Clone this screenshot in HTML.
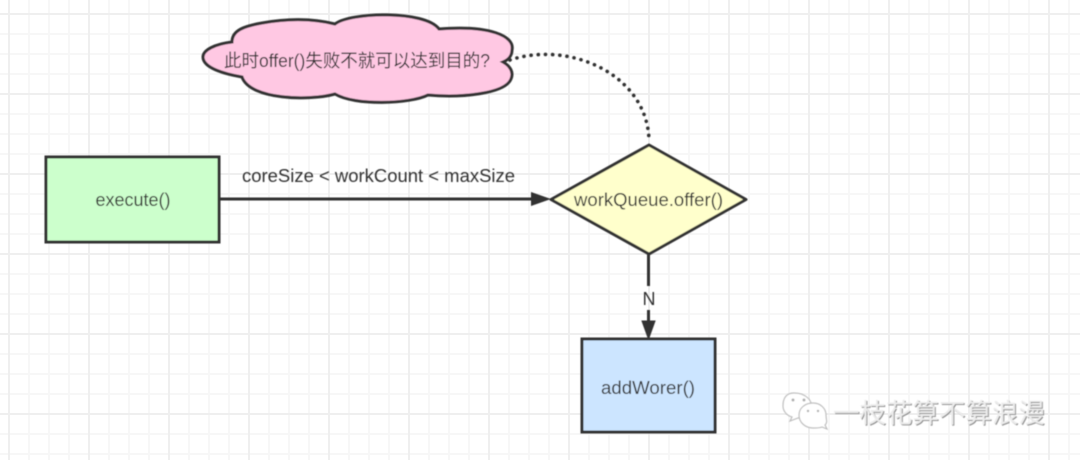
<!DOCTYPE html>
<html><head><meta charset="utf-8"><style>
html,body{margin:0;padding:0;background:#fff}
svg{display:block}
text{font-family:"Liberation Sans","Noto Sans CJK SC",sans-serif;fill:#333}
</style></head><body>
<svg width="1080" height="460" viewBox="0 0 1080 460" xmlns="http://www.w3.org/2000/svg">
<defs>
<pattern id="minor" x="8" y="13" width="20" height="20" patternUnits="userSpaceOnUse">
<path d="M1 0V20M0 1H20" fill="none" stroke="#f7f7f7" stroke-width="2"/>
</pattern>
<pattern id="major" x="8" y="13" width="80" height="80" patternUnits="userSpaceOnUse">
<path d="M1 0V80M0 1H80" fill="none" stroke="#efefef" stroke-width="2"/>
</pattern>
<filter id="soft"><feGaussianBlur stdDeviation="0.4"/></filter>
</defs>
<rect width="1080" height="460" fill="#fff"/>
<rect width="1080" height="460" fill="url(#minor)"/>
<rect width="1080" height="460" fill="url(#major)"/>

<g filter="url(#soft)">
<path d="M232 42C232 30 245 26 262 23C290 18 315 19 335 24C350 12 425 10 439 29C490 25 515 36 512 50C512 56 508 60 503 62C510 66 514 72 511 79C505 94 460 98 428 95C410 104 355 106 335 94C310 101 250 100 242 77C225 74 203 68 203 57C203 50 215 44 232 42Z" fill="#ffc8e3" stroke="#333" stroke-width="3" stroke-linejoin="miter"/>
<path d="M510 60C570 40 648 75 649 141" fill="none" stroke="#333" stroke-width="3.600" stroke-linecap="round" stroke-dasharray="0.1 7.100"/>

<rect x="46" y="157" width="173" height="85" fill="#ccffcc" stroke="#333" stroke-width="3"/>
<path d="M219 199H535" stroke="#333" stroke-width="3" fill="none"/>
<path d="M531 192L551 199L531 206Z" fill="#333"/>

<path d="M649 145L746 199.500L649 254L551 199.500Z" fill="#ffffcc" stroke="#333" stroke-width="3" stroke-linejoin="round"/>
<path d="M648.500 254V286M648.500 310V325" stroke="#333" stroke-width="3" fill="none"/>
<path d="M642 321L648.500 339L655 321Z" fill="#333" stroke="#333" stroke-width="1"/>

<rect x="582" y="339" width="133" height="93" fill="#cce5ff" stroke="#333" stroke-width="3"/>

<text x="357" y="67" font-size="18" text-anchor="middle" textLength="266" lengthAdjust="spacingAndGlyphs">此时offer()失败不就可以达到目的?</text>
<text x="133" y="206" font-size="18" text-anchor="middle" textLength="75" lengthAdjust="spacingAndGlyphs">execute()</text>
<text x="378.500" y="182" font-size="18" text-anchor="middle" textLength="273" lengthAdjust="spacingAndGlyphs">coreSize &lt; workCount &lt; maxSize</text>
<text x="648.500" y="206" font-size="18" text-anchor="middle" textLength="149" lengthAdjust="spacingAndGlyphs">workQueue.offer()</text>
<text x="649" y="305" font-size="18" text-anchor="middle">N</text>
<text x="648" y="394" font-size="18" text-anchor="middle" textLength="94" lengthAdjust="spacingAndGlyphs">addWorer()</text>
</g>

<g filter="url(#soft)">
<g fill="#fff" stroke="#bdbdbd" stroke-width="1.200">
<path d="M794 393C785 393 783 400 783 406C783 412 788 416 792 417L790 421L798 418C802 418 808 416 811 411C814 400 805 393 794 393Z"/>
<path d="M813 403C804 403 799 409 799 415C799 423 806 428 813 428C816 428 820 428 822 427L827 429L825 425C828 422 826 420 826 415C826 409 821 403 813 403Z"/>
</g>
<g fill="#b0b0b0">
<circle cx="793" cy="400" r="1.500"/><circle cx="804" cy="400" r="1.500"/>
<circle cx="808" cy="411" r="1.200"/><circle cx="818" cy="411" r="1.200"/>
</g>
<text x="834" y="423.500" font-size="26.500" textLength="212" lengthAdjust="spacingAndGlyphs" style="fill:#8f8f8f">一枝花算不算浪漫</text>
<text x="833" y="422.500" font-size="26.500" textLength="212" lengthAdjust="spacingAndGlyphs" style="fill:#ececec">一枝花算不算浪漫</text>
</g>
</svg>
</body></html>
